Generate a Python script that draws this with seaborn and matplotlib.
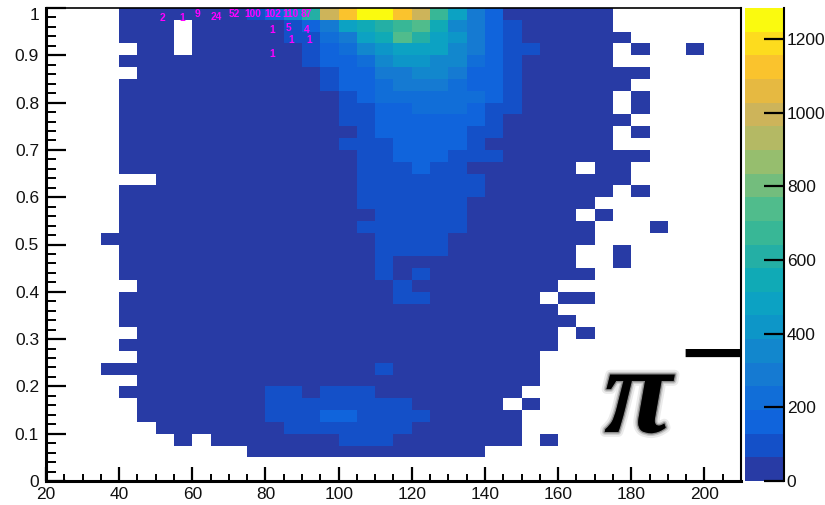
# 2D map of pi- counts, one list per row from the top row (y 0.975-1) downwards
import numpy as np
import pandas as pd
import matplotlib
matplotlib.use("Agg")
import matplotlib.pyplot as plt
import matplotlib.patheffects as pe
from matplotlib.colors import ListedColormap
import seaborn as sns

sns.set_style("white")
plt.rcParams['font.family'] = ['Liberation Sans', 'DejaVu Sans']

_ = np.nan

# columns are 5 wide from 20 to 210, rows are 0.025 high
rows = [
    [_]*4 + [30]*7 + [95, 160, 350, 610, 1000, 1125, 1250, 1250, 1125, 1000, 675, 480, 290, 160] + [30]*6,
    [_]*4 + [30]*3 + [_] + [30]*5 + [95, 160, 290, 480, 545, 610, 675, 740, 545, 350, 290, 160, 95] + [30]*5,
    [_]*4 + [30]*3 + [_] + [30]*5 + [95, 95, 225, 290, 480, 545, 740, 610, 480, 415, 290, 160, 95] + [30]*6,
    [_]*5 + [30]*2 + [_] + [30]*6 + [95, 160, 225, 350, 415, 480, 480, 480, 350, 290, 160, 95, 95] + [30]*4 + [_, 30, _, _, 30],
    [_]*4 + [30]*10 + [95, 160, 160, 225, 350, 415, 415, 350, 350, 225, 160, 95] + [30]*5,
    [_]*5 + [30]*10 + [95, 160, 160, 290, 290, 350, 350, 290, 160, 160, 95] + [30]*7,
    [_]*4 + [30]*11 + [95, 160, 160, 225, 290, 290, 290, 225, 160, 160, 95] + [30]*6,
    [_]*4 + [30]*12 + [95, 160, 225, 225, 225, 225, 225, 225, 160, 95] + [30]*5 + [_, 30],
    [_]*4 + [30]*12 + [95, 95, 160, 160, 225, 225, 225, 160, 95, 95] + [30]*5 + [_, 30],
    [_]*4 + [30]*12 + [95, 95, 160, 160, 160, 160, 160, 160, 95] + [30]*7,
    [_]*4 + [30]*13 + [95, 160, 160, 160, 160, 160, 95, 95] + [30]*6 + [_, 30],
    [_]*4 + [30]*12 + [95, 95, 95, 160, 160, 160, 160, 95] + [30]*7,
    [_]*4 + [30]*13 + [95, 95, 160, 160, 160, 95, 95, 95] + [30]*8,
    [_]*4 + [30]*13 + [95, 95, 95, 160, 95, 95] + [30]*6 + [_, 30, 30],
    [_]*6 + [30]*11 + [95]*7 + [30]*8,
    [_]*4 + [30]*13 + [95]*7 + [30]*7 + [_, 30],
    [_]*4 + [30]*13 + [95]*6 + [30]*7,
    [_]*4 + [30]*14 + [95]*5 + [30]*6 + [_, 30],
    [_]*4 + [30]*13 + [95]*6 + [30]*7 + [_, _, _, 30],
    [_]*3 + [30]*15 + [95]*4 + [30]*8,
    [_]*4 + [30]*14 + [95]*4 + [30]*7 + [_, _, 30],
    [_]*4 + [30]*14 + [95] + [30]*10 + [_, _, 30],
    [_]*4 + [30]*14 + [95, 30, 95] + [30]*9,
    [_]*5 + [30]*14 + [95] + [30]*8,
    [_]*4 + [30]*15 + [95, 95] + [30]*6 + [_, 30, 30],
    [_]*4 + [30]*24,
    [_]*4 + [30]*25,
    [_]*5 + [30]*23 + [_, 30],
    [_]*4 + [30]*24,
    [_]*5 + [30]*22,
    [_]*3 + [30]*15 + [95] + [30]*8,
    [_]*5 + [30]*22,
    [_]*4 + [30]*8 + [95, 95, 30, 95, 95, 95] + [30]*8,
    [_]*5 + [30]*7 + [95]*8 + [30]*5 + [_, 30],
    [_]*5 + [30]*7 + [95, 95, 95, 160, 160, 95, 95, 95, 95] + [30]*5,
    [_]*6 + [30]*7 + [95]*7 + [30]*6,
    [_]*7 + [30, _] + [30]*7 + [95, 95, 95] + [30]*7 + [_, 30],
    [_]*11 + [30]*13,
    [],
    [],
]
x_edges = np.arange(20, 215, 5)
y_tops = np.round(np.arange(1, 0, -0.025), 3)

z_max = 1284
band_colors = ['#283ba5', '#1450c8', '#1064dc', '#116ed8', '#157ad2', '#1287cd', '#0d96c8',
               '#0ca2c3', '#10aab6', '#24afa5', '#38b796', '#50bc8c', '#73bd7d', '#96be6e',
               '#b4b964', '#cdb45a', '#e6b941', '#fac32d', '#fddc1e', '#fafa0f']

x_ticks = [20, 40, 60, 80, 100, 120, 140, 160, 180, 200]
y_ticks = [0, 0.1, 0.2, 0.3, 0.4, 0.5, 0.6, 0.7, 0.8, 0.9, 1]
y_labels = ['0', '0.1', '0.2', '0.3', '0.4', '0.5', '0.6', '0.7', '0.8', '0.9', '1']
z_ticks = [0, 200, 400, 600, 800, 1000, 1200]

note_text = ['2', '1', '9', '24', '52', '100', '102', '110', '87', '1', '5', '4', '1', '1', '1']
note_x = [51.7, 57.2, 61.5, 66.6, 71.6, 76.6, 81.9, 86.9, 91.3, 81.9, 86.3, 91.2, 87.0, 92.0, 81.9]
note_y = [0.979, 0.979, 0.987, 0.981, 0.987, 0.987, 0.987, 0.987, 0.987, 0.953, 0.958, 0.953, 0.932, 0.932, 0.903]

df = pd.DataFrame([r + [_]*(38 - len(r)) for r in rows], index=y_tops, columns=x_edges[:-1])


# heatmap cells sit on index positions, so convert axis values to them
def x_pos(v):
    return (np.asarray(v) - 20) / 5


def y_pos(v):
    return (1 - np.asarray(v)) / 0.025


fig = plt.figure(figsize=(8.25, 5.05), dpi=100)
ax = fig.add_axes([46/825, 1 - 481/505, 695/825, 473/505])
cax = fig.add_axes([745/825, 1 - 481/505, 39/825, 473/505])

sns.heatmap(df, ax=ax, cbar_ax=cax, cmap=ListedColormap(band_colors), vmin=0, vmax=z_max,
            xticklabels=False, yticklabels=False)

ax.set_xticks(x_pos(x_ticks))
ax.set_xticklabels(x_ticks, rotation=0)
ax.set_xticks(x_pos(np.arange(20, 215, 5)), minor=True)
ax.set_yticks(y_pos(y_ticks))
ax.set_yticklabels(y_labels, rotation=0)
ax.set_yticks(y_pos(np.arange(0, 1.01, 0.02)), minor=True)
ax.set_xlabel('')
ax.set_ylabel('')

ax.tick_params(axis='x', which='major', direction='in', length=10, width=1.6, labelsize=12.5, pad=4,
               bottom=True, color='black', labelcolor='#111111')
ax.tick_params(axis='x', which='minor', direction='in', length=5, width=1.4, bottom=True, color='black')
ax.tick_params(axis='y', which='major', direction='in', length=14.5, width=1.6, labelsize=12.5, pad=5,
               left=True, color='black', labelcolor='#111111')
ax.tick_params(axis='y', which='minor', direction='in', length=7, width=1.4, left=True, color='black')
ax.get_yticklabels()[-1].set_va('top')
ax.set_axisbelow(False)

for side, w in [('left', 2.2), ('bottom', 2.2), ('top', 1.2), ('right', 1.5)]:
    ax.spines[side].set_visible(True)
    ax.spines[side].set_color('black')
    ax.spines[side].set_linewidth(w)

for t, x, y in zip(note_text, note_x, note_y):
    ax.text(x_pos(x), y_pos(y), t, color='#ff00ff', fontsize=7.4, weight='bold', ha='center', va='center')

cbar = ax.collections[0].colorbar
cbar.set_ticks(z_ticks)
cbar.outline.set_visible(False)
cbar.solids.set_zorder(0)
cax.set_axisbelow(False)
cax.spines['right'].set_visible(True)
cax.spines['right'].set_color('black')
cax.spines['right'].set_linewidth(1.5)
cax.yaxis.set_ticks_position('right')
cax.tick_params(axis='y', direction='in', length=14.5, width=1.6, labelsize=12.5, pad=2,
                color='black', labelcolor='#111111')

# big particle label with a soft shadow
shadow = [pe.Stroke(linewidth=7, foreground='black', alpha=0.08),
          pe.Stroke(linewidth=4, foreground='black', alpha=0.15),
          pe.Stroke(linewidth=2, foreground='black', alpha=0.3), pe.Normal()]
fig.text(638/825, 1 - 432/505, '\u03c0', family='Liberation Serif', style='italic', weight='bold',
         fontsize=90, ha='center', va='baseline', color='black', path_effects=shadow)
fig.text(713/825, 1 - 362/505, '\u2212', family='Liberation Sans',
         fontsize=82, ha='center', va='center', color='black', clip_on=False)

fig.savefig('out.png', dpi=100)
